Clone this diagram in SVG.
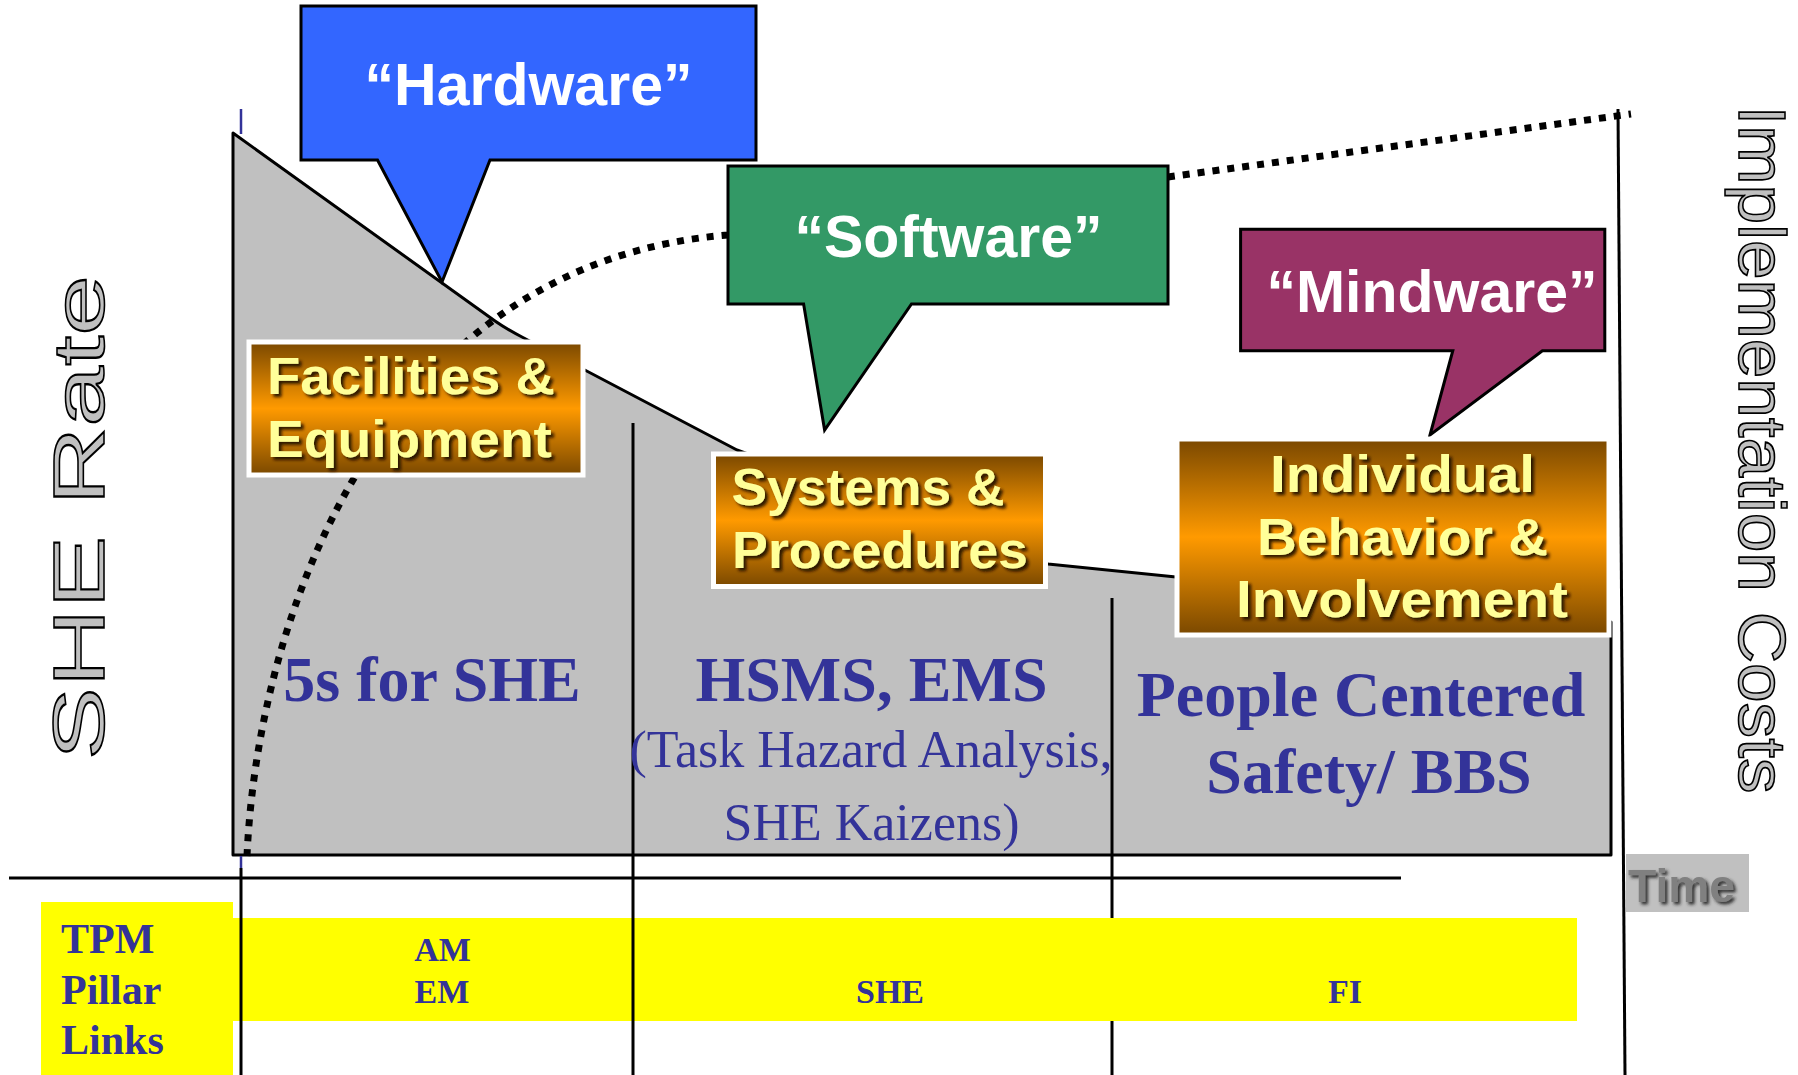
<svg xmlns="http://www.w3.org/2000/svg" width="1798" height="1075" viewBox="0 0 1798 1075">
<defs>
<linearGradient id="og" x1="0" y1="0" x2="0" y2="1">
<stop offset="0" stop-color="#7a4800"/>
<stop offset="0.5" stop-color="#ff9a00"/>
<stop offset="1" stop-color="#7a4800"/>
</linearGradient>
<filter id="sh" x="-10%" y="-20%" width="130%" height="150%">
<feDropShadow dx="3" dy="3" stdDeviation="1.6" flood-color="#1a0d00" flood-opacity="0.9"/>
</filter>
<filter id="sh2" x="-10%" y="-20%" width="130%" height="150%">
<feDropShadow dx="2.5" dy="2.5" stdDeviation="1.5" flood-color="#222" flood-opacity="0.9"/>
</filter>
</defs>
<style>
.ln{stroke:#000;stroke-width:3;fill:none}
.call{stroke:#000;stroke-width:3}
.ct{font-family:"Liberation Sans",Arial,sans-serif;font-weight:bold;font-size:59px;fill:#fff;text-anchor:middle}
.lb{fill:url(#og);stroke:#fff;stroke-width:5}
.lt{font-family:"Liberation Sans",Arial,sans-serif;font-weight:bold;font-size:52px;fill:#ffff99;filter:url(#sh)}
.bt{font-family:"Liberation Serif","Times New Roman",serif;font-weight:bold;font-size:64px;fill:#333399;text-anchor:middle}
.st{font-family:"Liberation Serif","Times New Roman",serif;font-size:52px;fill:#333399;text-anchor:middle}
.yt{font-family:"Liberation Serif","Times New Roman",serif;font-weight:bold;fill:#333399}
.ax{font-family:"Liberation Sans",Arial,sans-serif;fill:#c0c0c0;stroke:#000;stroke-width:1.6;text-anchor:middle}
</style>

<!-- gray area -->
<g id="area">
<path d="M233,133 L495,321 Q508,330 522,337 L737,450 L1048,564 L1176,577 L1611,622 L1611,855 L233,855 Z" fill="#c0c0c0" stroke="#000" stroke-width="3" stroke-linejoin="round"/>
</g>

<!-- axes and grid lines -->
<g id="connectors">
<line x1="1112" y1="598" x2="1112" y2="1075" class="ln" stroke-width="2.5"/>
<rect x="233" y="918" width="1344" height="103" fill="#ffff00"/>
<rect x="41" y="902" width="192" height="173" fill="#ffff00"/>
<line x1="633" y1="423" x2="633" y2="1075" class="ln" stroke-width="2.5"/>
<line x1="241" y1="109" x2="241" y2="134" stroke="#333399" stroke-width="2.5"/>
<line x1="241" y1="856" x2="241" y2="868" stroke="#333399" stroke-width="2.5"/>
<line x1="241" y1="868" x2="241" y2="1075" class="ln"/>
<line x1="1618" y1="109" x2="1625" y2="1075" class="ln"/>
<line x1="9" y1="878" x2="1401" y2="878" class="ln"/>
<path d="M247,856 C258,610 385,262 728,235 L1168,177 L1631,114" fill="none" stroke="#000" stroke-width="7" stroke-dasharray="7 8"/>
</g>

<!-- callouts -->
<g id="hardware">
<path class="call" fill="#3366ff" d="M301,6 H756 V160 H490 L442,282 L377.5,160 H301 Z"/>
<text class="ct" x="528.5" y="105">“Hardware”</text>
</g>
<g id="software">
<path class="call" fill="#339966" d="M728,166 H1168 V304 H911.5 L824.6,430 L803.6,304 H728 Z"/>
<text class="ct" x="948.5" y="257">“Software”</text>
</g>
<g id="mindware">
<path class="call" fill="#993366" d="M1240.6,229.3 H1604.8 V350.7 H1542.4 L1430,435 L1452.8,350.7 H1240.6 Z"/>
<text class="ct" x="1432" y="312">“Mindware”</text>
</g>

<!-- orange labels -->
<g id="facilities">
<rect class="lb" x="249" y="342" width="334" height="133"/>
<text class="lt" x="267" y="394" textLength="288" lengthAdjust="spacingAndGlyphs">Facilities &amp;</text>
<text class="lt" x="267" y="457" textLength="285" lengthAdjust="spacingAndGlyphs">Equipment</text>
</g>
<g id="systems">
<rect class="lb" x="713.5" y="454" width="332" height="132.5"/>
<text class="lt" x="731.5" y="505" textLength="273" lengthAdjust="spacingAndGlyphs">Systems &amp;</text>
<text class="lt" x="732" y="568" textLength="296" lengthAdjust="spacingAndGlyphs">Procedures</text>
</g>
<g id="individual">
<rect class="lb" x="1177" y="439" width="432" height="196"/>
<text class="lt" x="1270" y="491.5" textLength="265" lengthAdjust="spacingAndGlyphs">Individual</text>
<text class="lt" x="1257" y="555" textLength="291" lengthAdjust="spacingAndGlyphs">Behavior &amp;</text>
<text class="lt" x="1236" y="616.5" textLength="332" lengthAdjust="spacingAndGlyphs">Involvement</text>
</g>

<!-- phase texts -->
<g id="phase1">
<text class="bt" x="432" y="701">5s for SHE</text>
</g>
<g id="phase2">
<text class="bt" x="871.5" y="701">HSMS, EMS</text>
<text class="st" x="871" y="767">(Task Hazard Analysis,</text>
<text class="st" x="871.5" y="840">SHE Kaizens)</text>
</g>
<g id="phase3">
<text class="bt" x="1361" y="716">People Centered</text>
<text class="bt" x="1369" y="793">Safety/ BBS</text>
</g>

<!-- TPM links -->
<g id="tpm">
<text class="yt" x="61" y="953" font-size="42">TPM</text>
<text class="yt" x="61" y="1003.5" font-size="42">Pillar</text>
<text class="yt" x="61" y="1054" font-size="42">Links</text>
<text class="yt" x="442.5" y="961" font-size="34" text-anchor="middle">AM</text>
<text class="yt" x="442" y="1003" font-size="34" text-anchor="middle">EM</text>
<text class="yt" x="890" y="1003" font-size="34" text-anchor="middle">SHE</text>
<text class="yt" x="1345" y="1003" font-size="34" text-anchor="middle">FI</text>
</g>

<!-- axis titles -->
<g id="she-rate">
<text class="ax" font-size="72" transform="translate(103.5,517.5) rotate(-90)" textLength="485" lengthAdjust="spacingAndGlyphs">SHE Rate</text>
</g>
<g id="impl-costs">
<text class="ax" font-size="67" transform="translate(1739,449.5) rotate(90)" textLength="688" lengthAdjust="spacingAndGlyphs">Implementation Costs</text>
</g>
<g id="time">
<rect x="1626" y="854" width="123" height="58" fill="#c0c0c0"/>
<text x="1628" y="901.5" font-family="Liberation Sans,Arial,sans-serif" font-weight="bold" font-size="46" fill="#808080" filter="url(#sh2)" textLength="107" lengthAdjust="spacingAndGlyphs">Time</text>
</g>
</svg>
